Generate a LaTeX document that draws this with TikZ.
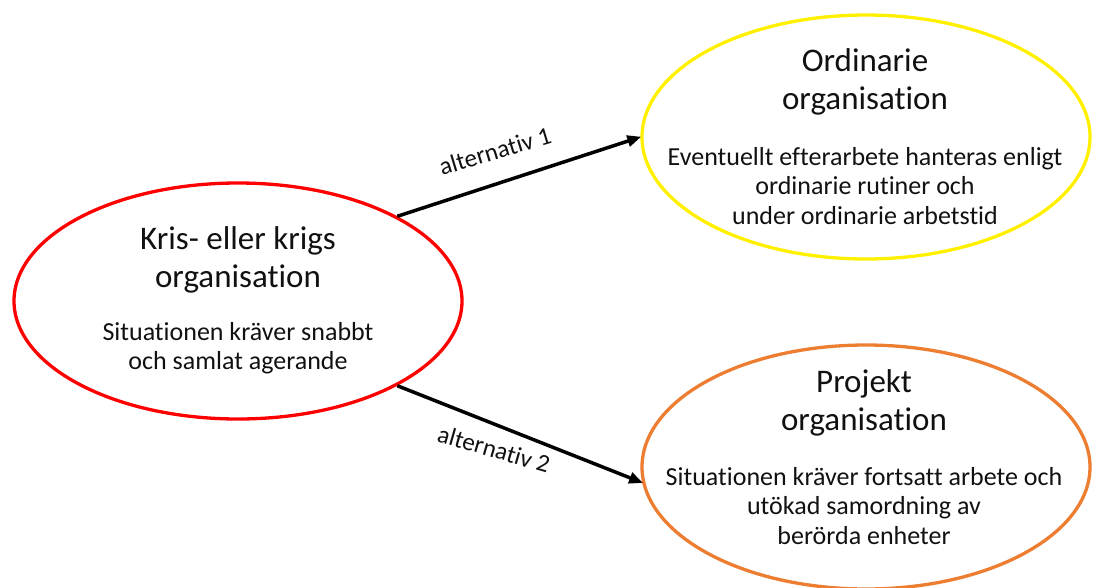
\documentclass[tikz,border=0pt]{standalone}
\usepackage{fontspec}
\setmainfont{Carlito}[Ligatures=NoCommon]
\usetikzlibrary{shapes.geometric,arrows.meta}
\definecolor{myred}{HTML}{FF0000}
\definecolor{myyellow}{HTML}{FFF000}
\definecolor{myorange}{HTML}{ED7D31}
\definecolor{txt}{HTML}{111111}
\tikzset{
  oval/.style={ellipse, draw, line width=3.3pt, inner sep=0pt, minimum width=448pt},
  ttl/.style={align=center, text=txt, font=\fontsize{33}{38}\selectfont, inner sep=0pt},
  sub/.style={align=center, text=txt, font=\fontsize{26}{29.5}\selectfont, inner sep=0pt},
  lbl/.style={text=txt, font=\fontsize{25}{28}\selectfont, inner sep=0pt},
  conn/.style={line width=3.5pt, -{Triangle[length=14pt,width=11pt]}, shorten >=-1pt}
}
\begin{document}
\begin{tikzpicture}[x=1pt,y=-1pt]
\useasboundingbox (0,0) rectangle (1094,587);
\node[oval, draw=myred, minimum height=236pt] (kris) at (238,301) {};
\node[oval, draw=myyellow, minimum height=244pt] (ord) at (866,137) {};
\node[oval, draw=myorange, minimum height=244pt] (proj) at (866,467) {};

\node[ttl] (krist) at (238,260) {Kris- eller krigs\\organisation};
\node[sub] (kriss) at (238,348) {Situationen kräver snabbt\\och samlat agerande};

\node[ttl] (ordt) at (865,82) {Ordinarie\\organisation};
\node[sub] (ords) at (865,186) {Eventuellt efterarbete hanteras enligt\\ordinarie rutiner och\\under ordinarie arbetstid};

\node[ttl] (projt) at (864,403) {Projekt\\organisation};
\node[sub] (projs) at (864,506) {Situationen kräver fortsatt arbete och\\utökad samordning av\\berörda enheter};

\draw[conn] (kris.28) -- (ord.west);
\draw[conn] (kris.-28) -- (proj.184);

\node[lbl, rotate=16.8] (l1) at (495,151) {alternativ 1};
\node[lbl, rotate=-16.2] (l2) at (494,449) {alternativ 2};
\end{tikzpicture}
\end{document}
